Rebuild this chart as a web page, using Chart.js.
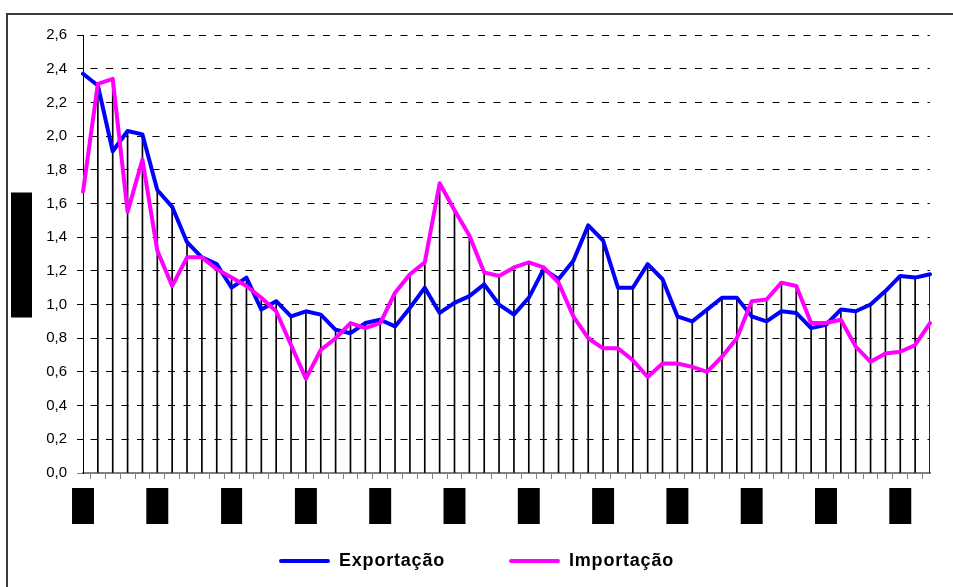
<!DOCTYPE html>
<html>
<head>
<meta charset="utf-8">
<script src="https://cdn.jsdelivr.net/npm/chart.js@4/dist/chart.umd.min.js"></script>
<style>
  html, body { margin: 0; padding: 0; background: #ffffff; width: 953px; height: 587px; overflow: hidden; }
  #frame { position: absolute; left: 6px; top: 13px; width: 1200px; height: 900px;
           border-left: 2px solid #3a3a3a; border-top: 2px solid #3a3a3a; }
  #c { position: absolute; left: 0; top: 0; }
</style>
</head>
<body>
<div id="frame"></div>
<canvas id="c" width="953" height="587"></canvas>
<script>
// ---- data ----
const periods = ["01","02","03","04","05","06","07","08","09","10",
                 "11","12","13","14","15","16","17","18","19","20",
                 "21","22","23","24","25","26","27","28","29","30",
                 "31","32","33","34","35","36","37","38","39","40",
                 "41","42","43","44","45","46","47","48","49","50",
                 "51","52","53","54","55","56","57","58"];

const exportacao = [2.37, 2.30, 1.91, 2.03, 2.01, 1.68, 1.58, 1.37, 1.28, 1.24,
                    1.10, 1.16, 0.97, 1.02, 0.93, 0.96, 0.94, 0.85, 0.83, 0.89,
                    0.91, 0.87, 0.98, 1.10, 0.95, 1.01, 1.05, 1.12, 1.00, 0.94,
                    1.04, 1.21, 1.15, 1.26, 1.47, 1.38, 1.10, 1.10, 1.24, 1.15,
                    0.93, 0.90, 0.97, 1.04, 1.04, 0.93, 0.90, 0.96, 0.95, 0.86,
                    0.88, 0.97, 0.96, 1.00, 1.08, 1.17, 1.16, 1.18];

const importacao = [1.67, 2.31, 2.34, 1.55, 1.86, 1.32, 1.11, 1.28, 1.28, 1.21,
                    1.16, 1.11, 1.04, 0.96, 0.76, 0.56, 0.73, 0.80, 0.89, 0.86,
                    0.89, 1.07, 1.18, 1.25, 1.72, 1.56, 1.41, 1.19, 1.17, 1.22,
                    1.25, 1.22, 1.13, 0.93, 0.80, 0.74, 0.74, 0.67, 0.57, 0.65,
                    0.65, 0.63, 0.60, 0.69, 0.80, 1.02, 1.03, 1.13, 1.11, 0.89,
                    0.89, 0.91, 0.75, 0.66, 0.71, 0.72, 0.76, 0.89];

const seriesNames = ["Exportação", "Importação"];
const yAxisTitle = "Índice";
const yMin = 0, yMax = 2.6, yStep = 0.2;
const labelEvery = 5;

// drop lines: from the higher of the two series down to the axis
const dropLines = exportacao.map((v, i) => Math.max(v, importacao[i]));

// ---- layout / style constants ----
const FONT = "'Liberation Sans', Arial, sans-serif";
const CANVAS_H = 587;
const PLOT_BOTTOM = 473;
const X_AXIS_H = 56;
const LEGEND_FONT = 18;
const LEGEND_PAD = 64;
const LEGEND_TEXT_Y = 561;
const LEGEND_LETTER_SPACING = '0.8px';

Chart.defaults.font.family = FONT;
Chart.defaults.color = '#000';

const legendSpacing = {
  id: 'legendSpacing',
  beforeLayout(chart) {
    const lg = chart.legend;
    if (!lg || lg._patched) return;
    lg._patched = true;
    const fit0 = lg.fit, draw0 = lg.draw;
    lg.fit = function () {
      const c = this.ctx; c.save(); c.letterSpacing = LEGEND_LETTER_SPACING;
      fit0.call(this); c.restore();
      this.height = CANVAS_H - PLOT_BOTTOM - X_AXIS_H;
    };
    lg.draw = function () {
      const c = this.ctx; c.save(); c.letterSpacing = LEGEND_LETTER_SPACING;
      const t0 = this.top;
      this.top = LEGEND_TEXT_Y - LEGEND_PAD - LEGEND_FONT / 2;
      draw0.call(this);
      this.top = t0;
      c.restore();
    };
  }
};

// black redaction block behind the (hidden) y-axis title
const titleBlock = {
  id: 'titleBlock',
  beforeDraw(chart) {
    const s = chart.scales.y, ca = chart.chartArea, ctx = chart.ctx;
    const cy = (ca.top + ca.bottom) / 2;
    ctx.save();
    ctx.fillStyle = '#000';
    ctx.fillRect(s.left + 11, cy - 61.5, 21, 125);
    ctx.restore();
  }
};

const isZero = c => c.tick && Math.abs(c.tick.value) < 1e-9;

new Chart(document.getElementById('c'), {
  type: 'line',
  data: {
    labels: periods,
    datasets: [
      { type: 'line', label: seriesNames[0], data: exportacao,
        borderColor: '#0000FF', backgroundColor: '#0000FF', borderWidth: 4,
        pointRadius: 0, tension: 0, fill: false, order: 2,
        borderJoinStyle: 'round', borderCapStyle: 'round' },
      { type: 'line', label: seriesNames[1], data: importacao,
        borderColor: '#FF00FF', backgroundColor: '#FF00FF', borderWidth: 4,
        pointRadius: 0, tension: 0, fill: false, order: 1,
        borderJoinStyle: 'round', borderCapStyle: 'round' },
      { type: 'bar', label: 'drop', data: dropLines,
        backgroundColor: '#000', borderWidth: 0, barThickness: 1, order: 3 }
    ]
  },
  options: {
    responsive: false,
    animation: false,
    devicePixelRatio: 1,
    layout: { padding: { top: 35, right: 0, left: 0, bottom: 0 } },
    plugins: {
      tooltip: { enabled: false },
      legend: {
        position: 'bottom',
        labels: {
          boxWidth: 51, boxHeight: 4, padding: LEGEND_PAD, useBorderRadius: true,
          color: '#000',
          font: { family: FONT, size: LEGEND_FONT, weight: 'bold' },
          sort: (a, b) => a.datasetIndex - b.datasetIndex,
          generateLabels: chart =>
            Chart.defaults.plugins.legend.labels.generateLabels(chart)
              .filter(l => l.datasetIndex < 2)
              .map(l => Object.assign({}, l, { fillStyle: l.strokeStyle, lineWidth: 0, borderRadius: 2 }))
        }
      }
    },
    scales: {
      x: {
        type: 'category',
        offset: false,
        grid: { display: true, drawOnChartArea: false, drawTicks: true, tickLength: 6,
                tickColor: '#808080', tickWidth: 1 },
        border: { display: true, color: '#808080', width: 2 },
        ticks: {
          autoSkip: false, maxRotation: 0, minRotation: 0, padding: 20,
          color: '#000', font: { family: FONT, size: 12 },
          callback: function (v, i) { return i % labelEvery === 0 ? this.getLabelForValue(v) : ''; },
          showLabelBackdrop: c => c.index % labelEvery === 0,
          backdropColor: '#000',
          backdropPadding: { top: 11, left: 4.3, right: 4.3, bottom: 10.6 }
        },
        afterFit: s => { s.height = X_AXIS_H; }
      },
      y: {
        min: yMin, max: yMax,
        ticks: {
          stepSize: yStep, padding: 10, color: '#000',
          font: { family: FONT, size: 15 },
          callback: v => v.toFixed(1).replace('.', ',')
        },
        grid: {
          color: c => isZero(c) ? '#808080' : '#000',
          tickColor: c => isZero(c) ? '#808080' : '#000',
          lineWidth: 1, tickLength: 6
        },
        border: {
          display: true, color: '#000', width: 1,
          dash: c => isZero(c) ? [] : [7, 8.5],
          dashOffset: 9
        },
        title: {
          display: true, text: yAxisTitle, color: '#000',
          font: { family: FONT, size: 15, weight: 'bold' },
          padding: { top: 13, bottom: 0 }
        },
        afterFit: s => { s.width = 83; }
      },
      yRight: {
        position: 'right', display: true,
        grid: { display: false }, ticks: { display: false }, border: { display: false },
        afterFit: s => { s.width = 23; }
      }
    }
  },
  plugins: [legendSpacing, titleBlock]
});
</script>
</body>
</html>
